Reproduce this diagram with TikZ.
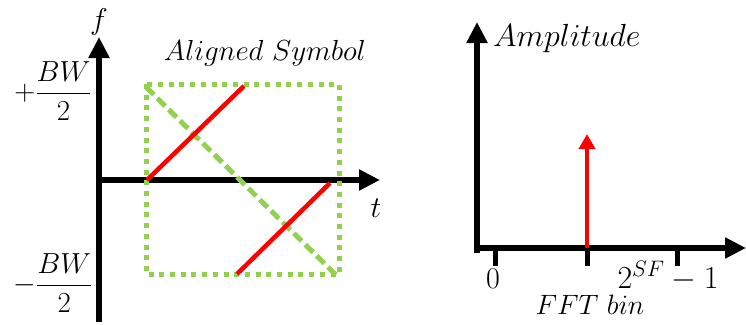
\documentclass[tikz,border=0pt]{standalone}
\usepackage{fix-cm}
\usepackage{amsmath}
\usetikzlibrary{arrows.meta}
\definecolor{lgreen}{HTML}{92D050}
\definecolor{pred}{HTML}{FF0000}
\tikzset{
  axisline/.style={line width=5.5pt, -{Triangle[width=20pt,length=21pt]}},
  tickline/.style={line width=5pt},
  dotbox/.style={draw=lgreen, line width=5pt, dash pattern=on 5pt off 5.7pt},
  dashdiag/.style={draw=lgreen, line width=5pt, dash pattern=on 11pt off 5pt},
  chirp/.style={draw=pred, line width=4.5pt},
  peak/.style={draw=pred, line width=4.5pt, -{Triangle[width=16pt,length=15pt]}},
  lbl/.style={anchor=base, inner sep=0pt},
  fs/.style={font=\fontsize{#1}{#1}\selectfont},
}
\begin{document}
\begin{tikzpicture}[x=1pt,y=-1pt,font=\fontsize{28}{32}\selectfont]
\useasboundingbox (0,0) rectangle (746,324);
% ---------- left panel ----------
\coordinate (lb) at (99,322);
\coordinate (lt) at (99,37);
\coordinate (lo) at (99,180);
\coordinate (lr) at (380,180);
\draw[axisline] (lb) -- (lt);
\draw[axisline] (lo) -- (lr);
\coordinate (bx1) at (146,84);
\coordinate (bx2) at (339,274);
\draw[dotbox] (bx1) rectangle (bx2);
\coordinate (d1) at (146,87);
\coordinate (d2) at (338,277);
\draw[dashdiag] (d1) -- (d2);
\coordinate (c1a) at (147,180);
\coordinate (c1b) at (244,86);
\coordinate (c2a) at (237,274);
\coordinate (c2b) at (330,183);
\draw[chirp] (c1a) -- (c1b);
\draw[chirp] (c2a) -- (c2b);
\node[lbl,fs=30] (f) at (99,29) {$f$};
\node[lbl,fs=30] (t) at (376,217) {$t$};
\node[lbl,fs=29] (al) at (265,60) {$Aligned\ Symbol$};
\node[fs=29] (pbw) at (53,91) {$+\dfrac{BW}{2}$};
\node[fs=29] (mbw) at (53,283) {$-\dfrac{BW}{2}$};
% ---------- right panel ----------
\coordinate (rb) at (477,253);
\coordinate (rt) at (477,22);
\coordinate (ro) at (474.5,248);
\coordinate (rr) at (746,248);
\draw[axisline] (rb) -- (rt);
\draw[axisline] (ro) -- (rr);
\coordinate (k0) at (495,248);
\coordinate (k0e) at (495,266);
\coordinate (k1) at (587,248);
\coordinate (k1e) at (587,266);
\coordinate (k2) at (677,248);
\coordinate (k2e) at (677,266);
\draw[tickline] (k0) -- (k0e);
\draw[tickline] (k1) -- (k1e);
\draw[tickline] (k2) -- (k2e);
\coordinate (pk) at (587,134);
\draw[peak] (k1) -- (pk);
\node[lbl,anchor=base west,fs=32] (amp) at (493,46) {$Amplitude$};
\node[lbl,fs=30] (zero) at (493,288) {$0$};
\node[lbl,fs=32] (last) at (668,288) {$2^{SF}-1$};
\node[lbl,fs=28] (fft) at (590,314) {$FFT\ bin$};
\end{tikzpicture}
\end{document}
